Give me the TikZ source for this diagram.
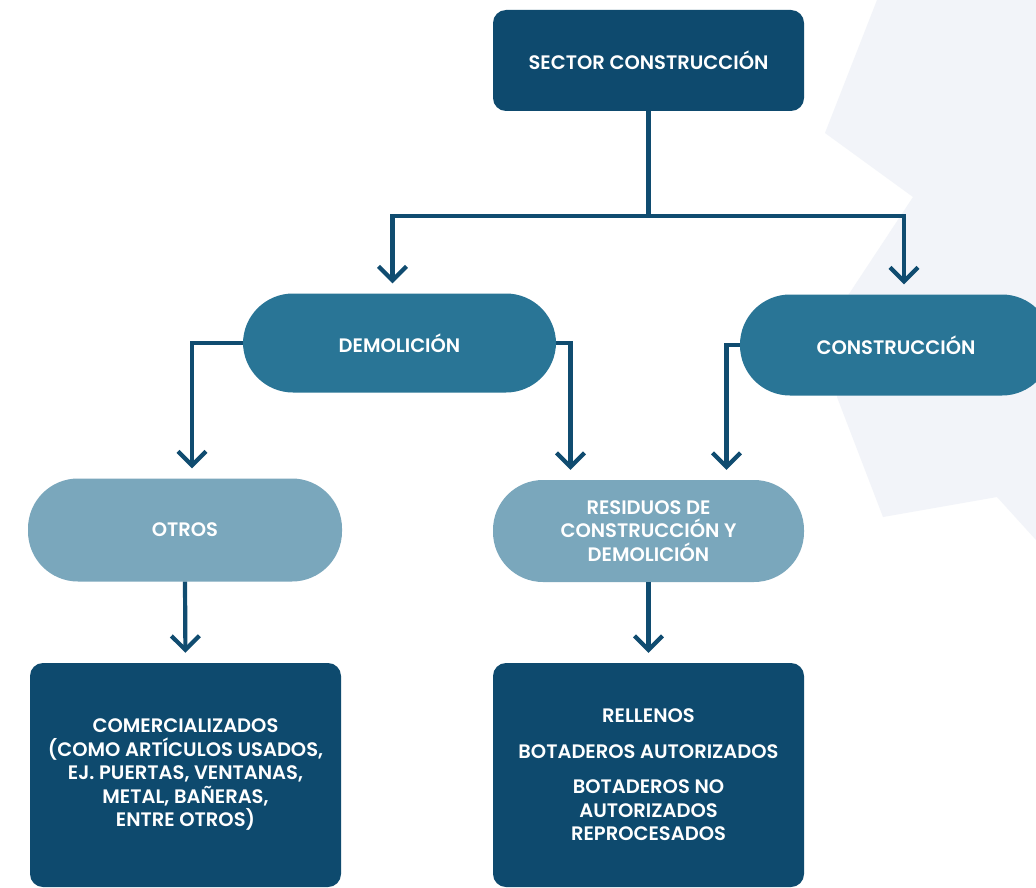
\documentclass[tikz,border=0pt]{standalone}
\usepackage{fontspec}
\setmainfont{Poppins}
\newfontfamily\boxfont{Poppins SemiBold}
\usetikzlibrary{arrows.meta}

\definecolor{darkbox}{HTML}{0E4A6E}
\definecolor{midpill}{HTML}{297596}
\definecolor{lightpill}{HTML}{7AA7BC}
\definecolor{linecol}{HTML}{104C70}
\definecolor{bgshade}{HTML}{F2F4F9}

\begin{document}
\begin{tikzpicture}[x=1pt,y=-1pt]

	\tikzstyle{base}=[text=white,font=\boxfont\fontsize{19.5}{23.5}\selectfont,align=center,inner sep=0pt]
	\tikzstyle{box}=[base,fill=darkbox,rounded corners=13pt,minimum width=311pt]
	\tikzstyle{pill}=[base,rounded corners=50pt,minimum width=312pt,minimum height=101pt]
	\tikzstyle{myline}=[line width=4.2pt,draw=linecol]
	\tikzstyle{myarrow}=[myline,-{Straight Barb[length=14pt,width=28pt]},shorten >=10pt]

	\useasboundingbox (0,0) rectangle (1036,888);
	\fill[white] (0,0) rectangle (1036,888);
	\fill[bgshade] (877,0) -- (825,133) -- (913,197) -- (845,300) -- (837,397) -- (883,517) -- (997,497) -- (1036,540) -- (1036,0) -- cycle;

	% boxes
	\node[box,minimum height=101pt] (top) at (648.5,60.5) {SECTOR CONSTRUCCIÓN};

	\node[pill,fill=midpill,minimum width=313pt,minimum height=99pt] (demol) at (399.5,343) {DEMOLICIÓN};
	\node[pill,fill=midpill] (constr) at (896,345) {CONSTRUCCIÓN};

	\node[pill,fill=lightpill,minimum width=314pt,minimum height=103pt] (otros) at (185,530) {OTROS};
	\node[pill,fill=lightpill,minimum width=311pt,minimum height=102pt] (resid) at (648.5,531) {RESIDUOS DE\\CONSTRUCCIÓN Y\\DEMOLICIÓN};

	\node[box,minimum height=224pt] (com) at (185.5,775) {COMERCIALIZADOS\\(COMO ARTÍCULOS USADOS,\\EJ. PUERTAS, VENTANAS,\\METAL, BAÑERAS,\\ENTRE OTROS)};
	\node[box,minimum height=224pt] (rell) at (648.5,775) {RELLENOS\\[12pt]BOTADEROS AUTORIZADOS\\[12pt]BOTADEROS NO\\AUTORIZADOS\\REPROCESADOS};

	% connectors
	\coordinate (split) at (648.5,216);
	\draw[myline] (top.south) -- (split);
	\draw[myarrow] (split) -| ([xshift=-7pt]demol.north);
	\draw[myarrow] (split) -| ([xshift=8pt]constr.north);
%
	\draw[myarrow] (demol.west) -| ([xshift=7pt]otros.north);
	\draw[myarrow] (demol.east) -| ([xshift=-78pt]resid.north);
	\draw[myarrow] (constr.west) -| ([xshift=78pt]resid.north);
%
	\draw[myarrow] (otros.south) -- (com.north);
	\draw[myarrow] (resid.south) -- (rell.north);
\end{tikzpicture}
\end{document}
